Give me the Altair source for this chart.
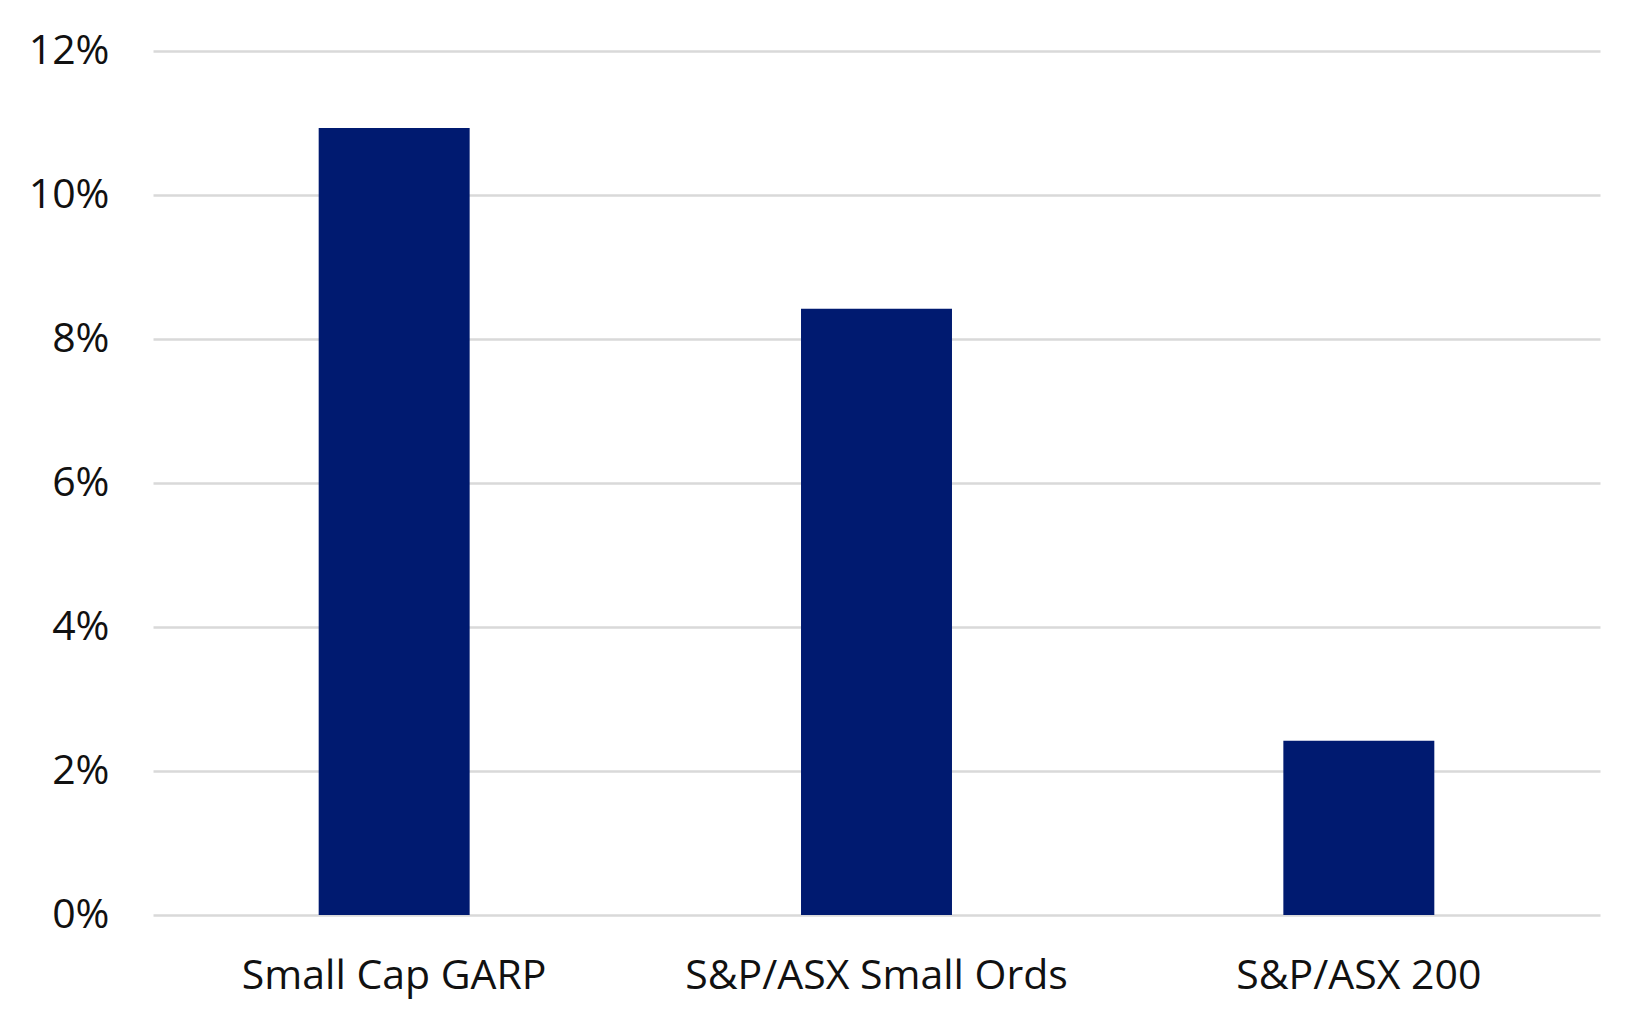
import altair as alt
import pandas as pd

categories = ["Small Cap GARP", "S&P/ASX Small Ords", "S&P/ASX 200"]
values = [0.1093, 0.0842, 0.0242]
y_ticks = [0, 0.02, 0.04, 0.06, 0.08, 0.10, 0.12]

df = pd.DataFrame({"cat": categories, "val": values})

FONT = "Open Sans"

chart = (
    alt.Chart(df)
    .mark_bar(color="#001A70")
    .encode(
        x=alt.X(
            "cat:N",
            sort=categories,
            title=None,
            scale=alt.Scale(paddingInner=0.687, paddingOuter=0.3435),
            axis=alt.Axis(
                labelAngle=0,
                labelFontSize=41,
                labelFont=FONT,
                labelColor="#111111",
                labelPadding=41,
                labelLimit=1000,
                ticks=False,
                domain=False,
                grid=False,
            ),
        ),
        y=alt.Y(
            "val:Q",
            title=None,
            scale=alt.Scale(domain=[0, 0.12], nice=False),
            axis=alt.Axis(
                values=y_ticks,
                format=".0%",
                labelFontSize=41,
                labelFont=FONT,
                labelColor="#111111",
                labelPadding=44,
                ticks=False,
                domain=False,
                grid=True,
                gridColor="#d9d9d9",
                gridWidth=2.6,
            ),
        ),
    )
    .properties(
        width=1447,
        height=864,
        background="white",
        autosize=alt.AutoSizeParams(type="none"),
        padding={"left": 145, "top": 43, "right": 40, "bottom": 100},
    )
    .configure_view(stroke=None, strokeWidth=0)
)

chart.save("out.html", embed_options={"renderer": "svg", "actions": False})
